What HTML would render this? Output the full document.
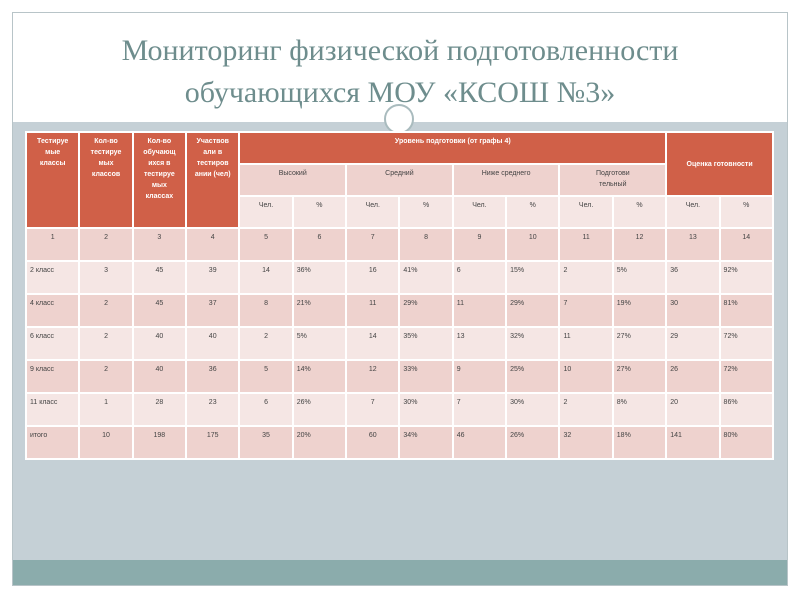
<!DOCTYPE html>
<html><head><meta charset="utf-8"><style>
body{margin:0;width:800px;height:600px;background:#fff;position:relative;overflow:hidden;font-family:"Liberation Sans","DejaVu Sans",sans-serif}
.slide{position:absolute;left:12px;top:12px;width:776px;height:574px;background:#fff;border:1px solid #b8c4c8;box-sizing:border-box}
.gray{position:absolute;left:13px;top:122px;width:774px;height:438px;background:#c5d0d6}
.teal{position:absolute;left:13px;top:560px;width:774px;height:25px;background:#8bacac}
.title{position:absolute;left:0;top:30px;width:800px;text-align:center;font-family:"Liberation Serif",serif;font-size:30px;line-height:42px;color:#6e8d8d}
.circ{position:absolute;left:384px;top:104px;width:30px;height:30px;border-radius:50%;border:2px solid #a9bbbe;background:#fff;box-sizing:border-box}
table{position:absolute;left:25px;top:131px;border-collapse:separate;border-spacing:2px;background:#fff;table-layout:fixed;width:749px}
td{font-size:7px;color:#444;vertical-align:top;padding:3px 3px;overflow:hidden;line-height:11px}
.h{background:#d06048;color:#fff;font-weight:bold;text-align:center;padding:3px 6px}
.d{background:#eed2ce}
.l{background:#f5e6e4}
.c{text-align:center}
</style></head><body>
<div class="slide"></div>
<div class="gray"></div>
<div class="teal"></div>
<div class="title">Мониторинг физической подготовленности<br>обучающихся МОУ «КСОШ №3»</div>
<div class="circ"></div>
<table>
<colgroup><col span="14" style="width:51px"></colgroup>
<tr style="height:30px">
<td class="h" rowspan="3">Тестируе мые классы</td>
<td class="h" rowspan="3">Кол-во тестируе мых классов</td>
<td class="h" rowspan="3">Кол-во обучающ ихся в тестируе мых классах</td>
<td class="h" rowspan="3">Участвов али в тестиров ании (чел)</td>
<td class="h" colspan="8" style="vertical-align:top">Уровень подготовки (от графы 4)</td>
<td class="h" colspan="2" rowspan="2" style="vertical-align:middle">Оценка готовности</td>
</tr>
<tr style="height:30px">
<td class="d c" colspan="2">Высокий</td>
<td class="d c" colspan="2">Средний</td>
<td class="d c" colspan="2">Ниже среднего</td>
<td class="d c" colspan="2" style="padding:3px 30px">Подготови тельный</td>
</tr>
<tr style="height:30px">
<td class="l c">Чел.</td><td class="l c">%</td><td class="l c">Чел.</td><td class="l c">%</td><td class="l c">Чел.</td><td class="l c">%</td><td class="l c">Чел.</td><td class="l c">%</td><td class="l c">Чел.</td><td class="l c">%</td>
</tr>
<tr style="height:31px">
<td class="d c">1</td><td class="d c">2</td><td class="d c">3</td><td class="d c">4</td><td class="d c">5</td><td class="d c">6</td><td class="d c">7</td><td class="d c">8</td><td class="d c">9</td><td class="d c">10</td><td class="d c">11</td><td class="d c">12</td><td class="d c">13</td><td class="d c">14</td>
</tr>
<tr style="height:31px">
<td class="l">2 класс</td><td class="l c">3</td><td class="l c">45</td><td class="l c">39</td><td class="l c">14</td><td class="l">36%</td><td class="l c">16</td><td class="l">41%</td><td class="l">6</td><td class="l">15%</td><td class="l">2</td><td class="l">5%</td><td class="l">36</td><td class="l">92%</td>
</tr>
<tr style="height:31px">
<td class="d">4 класс</td><td class="d c">2</td><td class="d c">45</td><td class="d c">37</td><td class="d c">8</td><td class="d">21%</td><td class="d c">11</td><td class="d">29%</td><td class="d">11</td><td class="d">29%</td><td class="d">7</td><td class="d">19%</td><td class="d">30</td><td class="d">81%</td>
</tr>
<tr style="height:31px">
<td class="l">6 класс</td><td class="l c">2</td><td class="l c">40</td><td class="l c">40</td><td class="l c">2</td><td class="l">5%</td><td class="l c">14</td><td class="l">35%</td><td class="l">13</td><td class="l">32%</td><td class="l">11</td><td class="l">27%</td><td class="l">29</td><td class="l">72%</td>
</tr>
<tr style="height:31px">
<td class="d">9 класс</td><td class="d c">2</td><td class="d c">40</td><td class="d c">36</td><td class="d c">5</td><td class="d">14%</td><td class="d c">12</td><td class="d">33%</td><td class="d">9</td><td class="d">25%</td><td class="d">10</td><td class="d">27%</td><td class="d">26</td><td class="d">72%</td>
</tr>
<tr style="height:31px">
<td class="l">11 класс</td><td class="l c">1</td><td class="l c">28</td><td class="l c">23</td><td class="l c">6</td><td class="l">26%</td><td class="l c">7</td><td class="l">30%</td><td class="l">7</td><td class="l">30%</td><td class="l">2</td><td class="l">8%</td><td class="l">20</td><td class="l">86%</td>
</tr>
<tr style="height:31px">
<td class="d">итого</td><td class="d c">10</td><td class="d c">198</td><td class="d c">175</td><td class="d c">35</td><td class="d">20%</td><td class="d c">60</td><td class="d">34%</td><td class="d">46</td><td class="d">26%</td><td class="d">32</td><td class="d">18%</td><td class="d">141</td><td class="d">80%</td>
</tr>
</table>
</body></html>
